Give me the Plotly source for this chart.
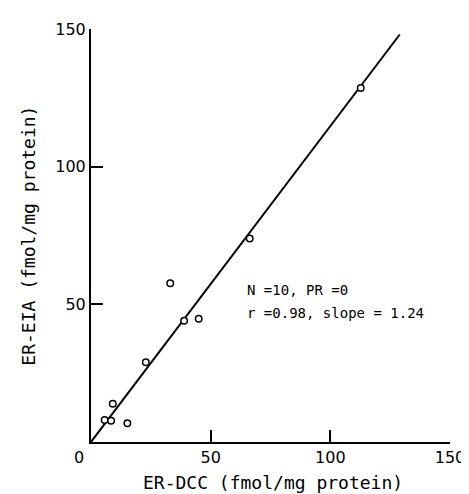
import plotly.graph_objects as go

# Data
er_dcc = [112.7, 66.3, 33.1, 38.9, 45.0, 22.9, 9.1, 5.7, 8.4, 15.2]
er_eia = [128.6, 73.9, 57.7, 44.0, 44.8, 29.0, 13.9, 8.0, 7.7, 6.8]
fit_x = [0, 129]
fit_y = [0, 148]
x_ticks = [50, 100, 150]
y_ticks = [50, 100, 150]
stats_line1 = "N =10, PR =0"
stats_line2 = "r =0.98, slope = 1.24"

FONT = "DejaVu Sans Mono"
TICKFONT = "DejaVu Sans"

fig = go.Figure()
fig.add_trace(go.Scatter(x=fit_x, y=fit_y, mode="lines",
                         line=dict(color="black", width=2), hoverinfo="skip"))
fig.add_trace(go.Scatter(x=er_dcc, y=er_eia, mode="markers",
                         marker=dict(symbol="circle", size=6.5, color="white",
                                     line=dict(color="black", width=1.5))))

axis_common = dict(range=[0, 150], showgrid=False, zeroline=False,
                   showline=True, linecolor="black", linewidth=2,
                   ticks="inside", ticklen=12, tickwidth=2, tickcolor="black",
                   tickfont=dict(family=TICKFONT, size=16, color="black"))

fig.update_xaxes(tickvals=x_ticks, ticktext=[str(v) for v in x_ticks], **axis_common)
fig.update_yaxes(tickvals=y_ticks, ticktext=[str(v) for v in y_ticks],
                 ticklabelstandoff=0, **axis_common)

fig.add_annotation(x=0, y=0, xref="x", yref="y", text="0", showarrow=False,
                   xshift=-12, yshift=-15, font=dict(family=TICKFONT, size=16, color="black"))
fig.add_annotation(x=0.508, y=-0.097, xref="paper", yref="paper",
                   text="ER-DCC (fmol/mg protein)", showarrow=False,
                   xanchor="center", yanchor="middle",
                   font=dict(family=FONT, size=18, color="black"))
fig.add_annotation(x=-0.175, y=0.5, xref="paper", yref="paper",
                   text="ER-EIA (fmol/mg protein)", showarrow=False, textangle=-90,
                   xanchor="center", yanchor="middle",
                   font=dict(family=FONT, size=18, color="black"))
fig.add_annotation(x=64.5, y=55.2, xref="x", yref="y", text=stats_line1,
                   showarrow=False, xanchor="left", yanchor="middle",
                   font=dict(family=FONT, size=14, color="black"))
fig.add_annotation(x=64.5, y=47.0, xref="x", yref="y", text=stats_line2,
                   showarrow=False, xanchor="left", yanchor="middle",
                   font=dict(family=FONT, size=14, color="black"))

fig.update_layout(width=469, height=494, showlegend=False,
                  plot_bgcolor="white", paper_bgcolor="white",
                  margin=dict(l=83, r=17, t=18, b=60))

fig.write_html("out.html")
